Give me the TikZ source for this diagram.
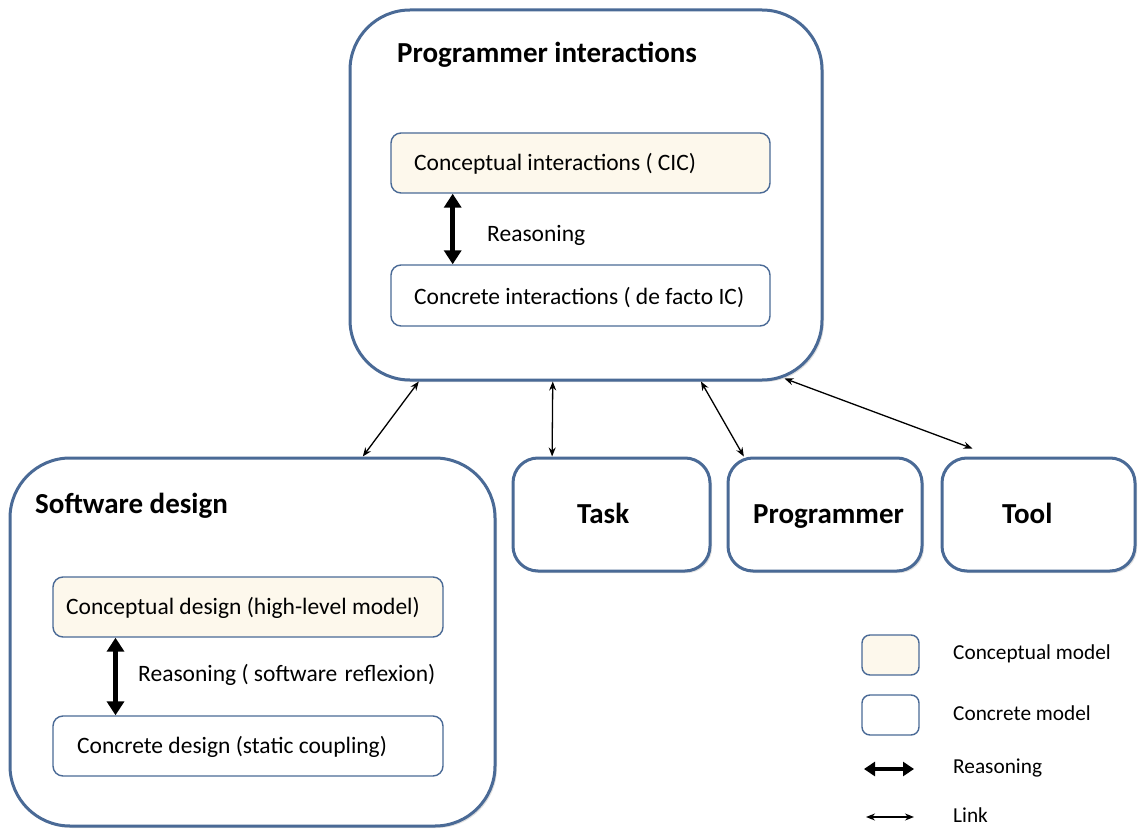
\documentclass[tikz,border=0pt]{standalone}
\usepackage{fontspec}
\setmainfont{Carlito}
\usetikzlibrary{arrows.meta,calc,shadows}
\definecolor{edge}{RGB}{74,106,150}
\definecolor{cream}{RGB}{253,248,236}
\tikzset{
  bigbox/.style={draw=edge, line width=3pt, rounded corners=60pt, fill=white,
    inner sep=0pt, drop shadow={shadow xshift=2pt, shadow yshift=-2pt, opacity=0.25, fill=gray}},
  smallbox/.style={draw=edge, line width=3pt, rounded corners=25pt, fill=white,
    inner sep=0pt, minimum height=113pt,
    drop shadow={shadow xshift=2pt, shadow yshift=-2pt, opacity=0.25, fill=gray}},
  concrete/.style={draw=edge, line width=1.4pt, rounded corners=10pt, fill=white, inner sep=0pt},
  conceptual/.style={concrete, fill=cream},
  title/.style={anchor=base west, inner sep=0pt, font=\fontsize{29}{33}\selectfont\bfseries},
  label/.style={anchor=base west, inner sep=0pt, font=\fontsize{23.5}{27}\selectfont},
  legendtext/.style={anchor=base west, inner sep=0pt, font=\fontsize{21.3}{25}\selectfont},
  reason/.style={line width=4.5pt, {Triangle[length=14pt,width=17pt]}-{Triangle[length=14pt,width=17pt]}},
  link/.style={line width=1.3pt, {Stealth[length=9pt,width=7pt]}-{Stealth[length=9pt,width=7pt]}},
}
\begin{document}
\begin{tikzpicture}[x=1pt,y=-1pt]
\useasboundingbox (0,0) rectangle (1138,829);

% Programmer interactions
\node[bigbox, minimum width=472pt, minimum height=370pt] (pi) at (586,195) {};
\node[title] (pititle) at (397,63) {Programmer interactions};
\node[conceptual, minimum width=379pt, minimum height=60pt] (cic) at (580.5,163) {};
\node[label] (cictext) at (414,171) {Conceptual interactions ( CIC)};
\node[concrete, minimum width=379pt, minimum height=61pt] (ci) at (580.5,295.5) {};
\node[label] (citext) at (414,304) {Concrete interactions ( de facto IC)};
\draw[reason] ($(cic.south west)!0.164!(cic.south east)$) -- ($(ci.north west)!0.164!(ci.north east)$);
\node[label] (pireason) at (487,241) {Reasoning};

% Software design
\node[bigbox, minimum width=485pt, minimum height=368pt] (sd) at (252.5,642) {};
\node[title] (sdtitle) at (35,513) {Software design};
\node[conceptual, minimum width=390pt, minimum height=60pt] (cd) at (248,607) {};
\node[label] (cdtext) at (66,614) {Conceptual design (high-level model)};
\node[concrete, minimum width=390pt, minimum height=60pt] (cod) at (248,746) {};
\node[label] (codtext) at (77,753) {Concrete design (static coupling)};
\draw[reason] ($(cd.south west)!0.1615!(cd.south east)$) -- ($(cod.north west)!0.1615!(cod.north east)$);
\node[label] (sdreason) at (138,681) {Reasoning ( software \hspace{2pt}reflexion)};

% Task, programmer and tool
\node[smallbox, minimum width=197pt] (task) at (611.5,514.5) {};
\node[title] (tasktext) at (577,523) {Task};
\node[smallbox, minimum width=194pt] (prog) at (825,514.5) {};
\node[title] (progtext) at (753,523) {Programmer};
\node[smallbox, minimum width=193pt] (tool) at (1038.5,514.5) {};
\node[title] (tooltext) at (1002,523) {Tool};

% Links
\draw[link] ($(pi.south west)!0.148!(pi.south east)$) -- ($(sd.north west)!0.726!(sd.north east)$);
\draw[link] ($(pi.south west)!0.43!(pi.south east)$) -- ($(task.north west)!0.203!(task.north east)$);
\draw[link] ($(pi.south west)!0.742!(pi.south east)$) -- ($(prog.north west)!0.088!(prog.north east)$);
\coordinate (toolend) at ($(tool.north west)+(32,-8)$);
\draw[link] ($(pi.south east)+(-39,-3)$) -- (toolend);

% Legend
\node[conceptual, rounded corners=8pt, minimum width=57pt, minimum height=40pt] (lgc) at (890.5,655) {};
\node[legendtext] (lgctext) at (953,659) {Conceptual model};
\node[concrete, rounded corners=8pt, minimum width=57pt, minimum height=40pt] (lgk) at (890.5,715) {};
\node[legendtext] (lgktext) at (953,720) {Concrete model};
\coordinate (lrs) at (864,769);
\coordinate (lre) at (914,769);
\draw[line width=4pt, {Triangle[length=11pt,width=14pt]}-{Triangle[length=11pt,width=14pt]}] (lrs) -- (lre);
\node[legendtext] (lrtext) at (953,773) {Reasoning};
\coordinate (lls) at (866,817);
\coordinate (lle) at (914,817);
\draw[link] (lls) -- (lle);
\node[legendtext] (lltext) at (953,822) {Link};
\end{tikzpicture}
\end{document}
